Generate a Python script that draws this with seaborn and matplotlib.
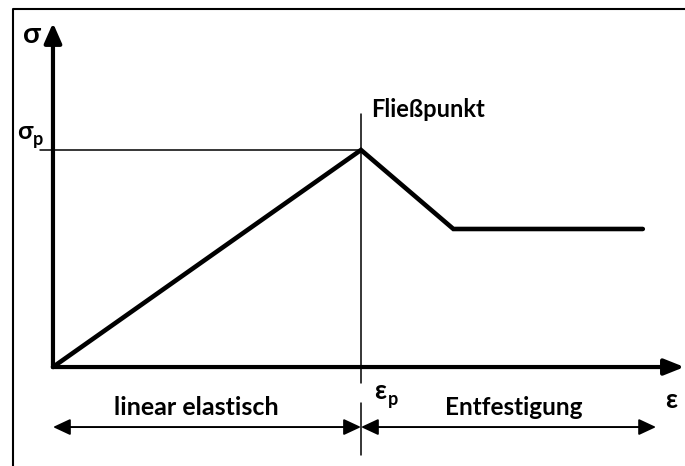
import matplotlib
matplotlib.use("Agg")
import matplotlib.pyplot as plt
import seaborn as sns
import pandas as pd

# stress-strain curve, normalised: eps_p = 1, sigma_p = 1
strain = [0.0, 1.0, 1.30, 1.915]
stress = [0.0, 1.0, 0.636, 0.636]

eps_p = 1.0
sig_p = 1.0
x_axis_end = 2.05
y_axis_end = 1.585
region_y = -0.2765
region_end = 1.958
region_labels = ["linear elastisch", "Entfestigung"]
peak_label = "Fließpunkt"

sns.set_style("white")
plt.rcParams["font.family"] = ["Lato", "DejaVu Sans"]

fig = plt.figure(figsize=(6.85, 4.66), dpi=100)
ax = fig.add_axes([0, 0, 1, 1])
ax.set_xlim(-0.172, 2.052)
ax.set_ylim(-0.456, 1.691)
ax.axis("off")

df = pd.DataFrame({"strain": strain, "stress": stress})
sns.lineplot(data=df, x="strain", y="stress", ax=ax, color="black",
             lw=3.3, sort=False, solid_joinstyle="miter", zorder=5)

# outer frame (left + top)
ax.plot([-0.131, -0.131, 2.1], [-0.5, 1.650, 1.650], color="black", lw=1.5,
        clip_on=False)

# axes with arrows
ax.annotate("", xy=(0, y_axis_end), xytext=(0, 0),
            arrowprops=dict(arrowstyle="-|>,head_length=0.75,head_width=0.33",
                            lw=3, color="black", shrinkA=0, shrinkB=0,
                            mutation_scale=16))
ax.annotate("", xy=(x_axis_end, 0), xytext=(0, 0),
            arrowprops=dict(arrowstyle="-|>,head_length=0.75,head_width=0.3",
                            lw=3, color="black", shrinkA=0, shrinkB=0,
                            mutation_scale=16))

# helper lines at the yield point
ax.plot([-0.042, eps_p], [sig_p, sig_p], color="black", lw=1.1)
ax.plot([eps_p, eps_p], [1.166, -0.074], color="black", lw=1.1)
ax.plot([eps_p, eps_p], [-0.166, -0.406], color="black", lw=1.1)

# region arrows
for x0, x1 in [(0, eps_p), (eps_p, region_end)]:
    ax.annotate("", xy=(x1, region_y), xytext=(x0, region_y),
                arrowprops=dict(arrowstyle="<|-|>,head_length=0.75,head_width=0.35",
                                lw=1.4, color="black", shrinkA=0, shrinkB=0,
                                mutation_scale=14))

bold = dict(fontweight="bold", color="black")
ax.text(-0.068, 1.53, "σ", fontsize=21, ha="center", va="center", **bold)
ax.text(-0.091, 1.085, "σ", fontsize=18, ha="center", va="center", **bold)
ax.text(-0.049, 1.05, "p", fontsize=13, ha="center", va="center", **bold)
ax.text(1.032, 1.152, peak_label, fontsize=17, ha="left", va="baseline", **bold)
ax.text(1.062, -0.112, "ε", fontsize=19, ha="center", va="center", **bold)
ax.text(1.104, -0.15, "p", fontsize=13, ha="center", va="center", **bold)
ax.text(2.006, -0.15, "ε", fontsize=19, ha="center", va="center", **bold)
ax.text(0.464, -0.221, region_labels[0], fontsize=18, ha="center", va="baseline", **bold)
ax.text(1.497, -0.221, region_labels[1], fontsize=17.5, ha="center", va="baseline", **bold)

fig.savefig("out.png", dpi=100)
